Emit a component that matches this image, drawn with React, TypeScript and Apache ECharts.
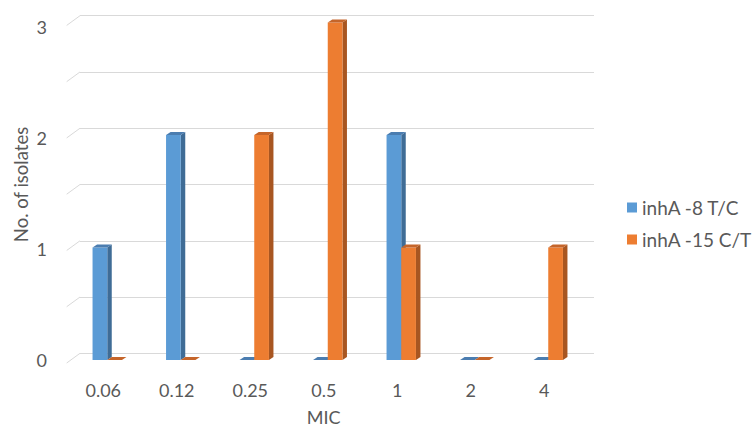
import React, { useEffect, useRef } from "react";
import * as echarts from "echarts";

const categories = ["0.06", "0.12", "0.25", "0.5", "1", "2", "4"];
const seriesNames = ["inhA -8 T/C", "inhA -15 C/T"];
const valuesA = [1, 2, 0, 0, 2, 0, 0];
const valuesB = [0, 0, 2, 3, 1, 0, 1];
const wallTicks = [0, 0.5, 1, 1.5, 2, 2.5, 3];

const FONT = "Lato";
const TEXT = "#595959";
const GRID_LINE = "#D9D9D9";

const palettes = [
  { front: "#5B9BD5", side: "#3F6C96", top: "#4B7DB0" },
  { front: "#ED7D31", side: "#A85621", top: "#C5652A" },
];

function makeBarRender(idx: number) {
  const pal = palettes[idx];
  return (params: any, api: any) => {
    const i = api.value(0);
    const v = api.value(1);
    const base = api.coord([i, 0]);
    const top = api.coord([i, v]);
    const band = api.size([1, 0])[0];
    const bw = band * 0.2;
    const x0 = base[0] + (idx === 0 ? -bw : 0);
    const x1 = x0 + bw;
    const dx = 4.5;
    const dy = 3;
    const yt = top[1];
    const yb = base[1];
    return {
      type: "group",
      children: [
        {
          type: "polygon",
          shape: { points: [[x1, yt], [x1 + dx, yt - dy], [x1 + dx, yb - dy], [x1, yb]] },
          style: { fill: pal.side },
        },
        {
          type: "rect",
          shape: { x: x0, y: yt, width: bw, height: yb - yt },
          style: { fill: pal.front },
        },
        {
          type: "polygon",
          shape: { points: [[x0, yt], [x0 + dx, yt - dy], [x1 + dx, yt - dy], [x1, yt]] },
          style: { fill: pal.top },
        },
      ],
    };
  };
}

function wallRender(params: any, api: any) {
  const v = api.value(1);
  const p = api.coord([0, v]);
  const xl = params.coordSys.x;
  return {
    type: "line",
    shape: { x1: xl - 13.3, y1: p[1] + 9.7, x2: xl, y2: p[1] },
    style: { stroke: GRID_LINE, lineWidth: 1 },
  };
}

export default function App() {
  const ref = useRef<HTMLDivElement>(null);
  useEffect(() => {
    if (!ref.current) return;
    const chart = echarts.init(ref.current, null, { renderer: "svg" });
    chart.setOption({
      animation: false,
      backgroundColor: "#ffffff",
      textStyle: { fontFamily: FONT },
      grid: [
        { left: 70.5, right: 167, top: 22.4, bottom: 77 },
        { left: 80, right: 158, top: 15.7, bottom: 83.7 },
        { left: 66.5, right: 171, top: 27, bottom: 77 },
      ],
      xAxis: [
        { type: "category", data: categories, gridIndex: 0, show: false },
        { type: "category", data: categories, gridIndex: 1, show: false },
        {
          type: "category",
          data: categories,
          gridIndex: 2,
          axisLine: { show: false },
          axisTick: { show: false },
          axisLabel: { color: TEXT, fontSize: 18, fontFamily: FONT, margin: 21 },
          name: "MIC",
          nameLocation: "middle",
          nameGap: 48,
          nameTextStyle: { color: TEXT, fontSize: 18, fontFamily: FONT },
        },
      ],
      yAxis: [
        { type: "value", min: 0, max: 3, gridIndex: 0, show: false, splitLine: { show: false } },
        {
          type: "value",
          min: 0,
          max: 3,
          interval: 0.5,
          gridIndex: 1,
          axisLine: { show: false },
          axisTick: { show: false },
          axisLabel: { show: false },
          splitLine: { show: true, lineStyle: { color: GRID_LINE, width: 1 } },
          name: "No. of isolates",
          nameLocation: "middle",
          nameGap: 50,
          nameTextStyle: { color: TEXT, fontSize: 18.5, fontFamily: FONT },
        },
        {
          type: "value",
          min: 0,
          max: 3,
          interval: 1,
          gridIndex: 2,
          axisLine: { show: false },
          axisTick: { show: false },
          splitLine: { show: false },
          axisLabel: { color: TEXT, fontSize: 18, fontFamily: FONT, margin: 19.5 },
        },
      ],
      legend: {
        orient: "vertical",
        left: 622,
        top: 193,
        itemWidth: 10,
        itemHeight: 10,
        itemGap: 13,
        icon: "rect",
        data: seriesNames,
        textStyle: { color: TEXT, fontSize: 19, fontFamily: FONT },
      },
      series: [
        {
          type: "custom",
          name: "wall",
          xAxisIndex: 1,
          yAxisIndex: 1,
          silent: true,
          renderItem: wallRender,
          data: wallTicks.map((t) => [0, t]),
          encode: { x: 0, y: 1 },
          z: 1,
        },
        {
          type: "custom",
          name: seriesNames[0],
          xAxisIndex: 0,
          yAxisIndex: 0,
          itemStyle: { color: palettes[0].front },
          renderItem: makeBarRender(0),
          data: valuesA.map((v, i) => [i, v]),
          encode: { x: 0, y: 1 },
          z: 3,
        },
        {
          type: "custom",
          name: seriesNames[1],
          xAxisIndex: 0,
          yAxisIndex: 0,
          itemStyle: { color: palettes[1].front },
          renderItem: makeBarRender(1),
          data: valuesB.map((v, i) => [i, v]),
          encode: { x: 0, y: 1 },
          z: 3,
        },
      ],
    });
    return () => chart.dispose();
  }, []);
  return <div ref={ref} style={{ width: 752, height: 437, position: "absolute", left: 0, top: 0 }} />;
}
